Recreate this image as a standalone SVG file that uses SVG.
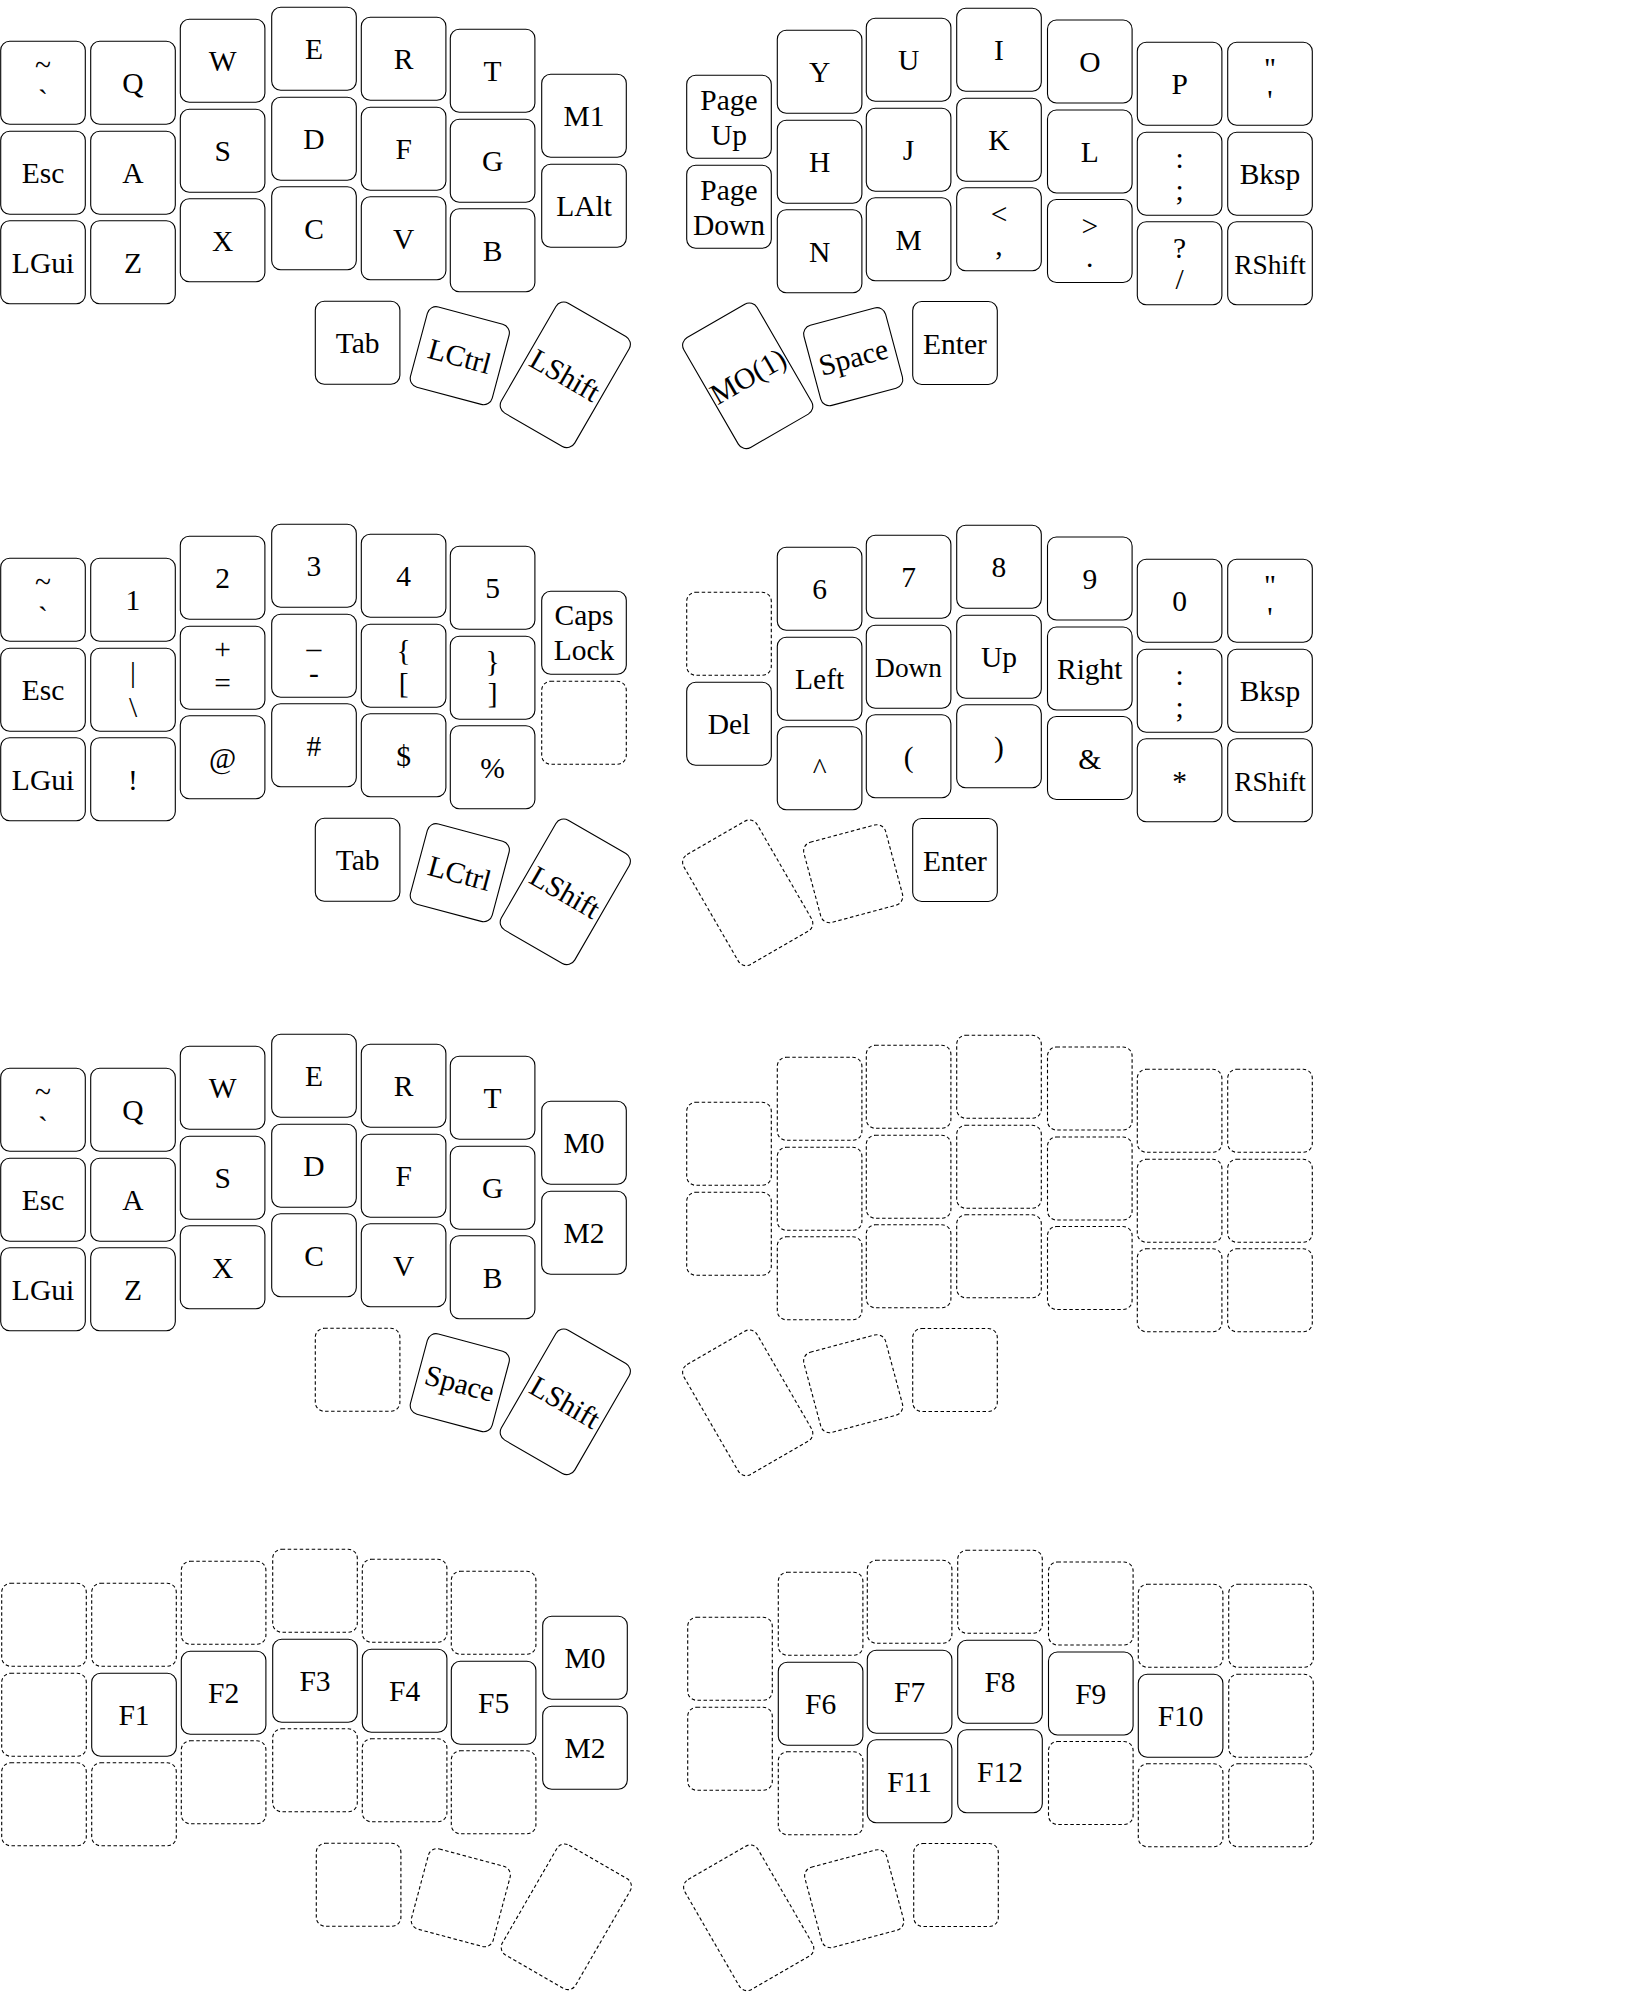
<svg xmlns="http://www.w3.org/2000/svg" width="1630" height="1997" viewBox="0 0 1630 1997">
<style>
.k{fill:#fff;stroke:#000;stroke-width:1.1}
.d{fill:#fff;stroke:#000;stroke-width:1.1;stroke-dasharray:3.5 2.5}
text{font-family:"Liberation Serif","Times New Roman",serif;font-size:29.5px;text-anchor:middle;fill:#000}
.s{font-size:27.4px}
</style>
<defs>
<rect id="u" class="k" width="84.6" height="83" rx="9"/>
<rect id="ud" class="d" width="84.6" height="83" rx="9"/>
</defs>
<rect width="1630" height="1997" fill="#fff"/>

<!-- LAYER 1 -->
<g id="layer1">
<g id="l1-tilde" transform="translate(0.7,41.3)"><rect class="k" width="84.6" height="83" rx="9"/><text><tspan x="42.3" y="34">~</tspan><tspan x="42.3" y="69">`</tspan></text></g>
<g id="l1-esc" transform="translate(0.7,131.3)"><rect class="k" width="84.6" height="83" rx="9"/><text x="42.3" y="52">Esc</text></g>
<g id="l1-lgui" transform="translate(0.7,220.8)"><rect class="k" width="84.6" height="83" rx="9"/><text x="42.3" y="52">LGui</text></g>
<g id="l1-q" transform="translate(90.7,41.3)"><rect class="k" width="84.6" height="83" rx="9"/><text x="42.3" y="52">Q</text></g>
<g id="l1-a" transform="translate(90.7,131.3)"><rect class="k" width="84.6" height="83" rx="9"/><text x="42.3" y="52">A</text></g>
<g id="l1-z" transform="translate(90.7,220.8)"><rect class="k" width="84.6" height="83" rx="9"/><text x="42.3" y="52">Z</text></g>
<g id="l1-w" transform="translate(180.3,19.3)"><rect class="k" width="84.6" height="83" rx="9"/><text x="42.3" y="52">W</text></g>
<g id="l1-s" transform="translate(180.3,109.3)"><rect class="k" width="84.6" height="83" rx="9"/><text x="42.3" y="52">S</text></g>
<g id="l1-x" transform="translate(180.3,198.8)"><rect class="k" width="84.6" height="83" rx="9"/><text x="42.3" y="52">X</text></g>
<g id="l1-e" transform="translate(271.7,7.3)"><rect class="k" width="84.6" height="83" rx="9"/><text x="42.3" y="52">E</text></g>
<g id="l1-d" transform="translate(271.7,97.3)"><rect class="k" width="84.6" height="83" rx="9"/><text x="42.3" y="52">D</text></g>
<g id="l1-c" transform="translate(271.7,186.8)"><rect class="k" width="84.6" height="83" rx="9"/><text x="42.3" y="52">C</text></g>
<g id="l1-r" transform="translate(361.3,17.3)"><rect class="k" width="84.6" height="83" rx="9"/><text x="42.3" y="52">R</text></g>
<g id="l1-f" transform="translate(361.3,107.3)"><rect class="k" width="84.6" height="83" rx="9"/><text x="42.3" y="52">F</text></g>
<g id="l1-v" transform="translate(361.3,196.8)"><rect class="k" width="84.6" height="83" rx="9"/><text x="42.3" y="52">V</text></g>
<g id="l1-t" transform="translate(450.3,29.3)"><rect class="k" width="84.6" height="83" rx="9"/><text x="42.3" y="52">T</text></g>
<g id="l1-g" transform="translate(450.3,119.3)"><rect class="k" width="84.6" height="83" rx="9"/><text x="42.3" y="52">G</text></g>
<g id="l1-b" transform="translate(450.3,208.8)"><rect class="k" width="84.6" height="83" rx="9"/><text x="42.3" y="52">B</text></g>
<g id="l1-m1" transform="translate(541.7,74.3)"><rect class="k" width="84.6" height="83" rx="9"/><text x="42.3" y="52">M1</text></g>
<g id="l1-lalt" transform="translate(541.7,164.3)"><rect class="k" width="84.6" height="83" rx="9"/><text x="42.3" y="52">LAlt</text></g>
<g id="l1-tab" transform="translate(315.3,301.3)"><rect class="k" width="84.6" height="83" rx="9"/><text x="42.3" y="52">Tab</text></g>
<g id="l1-lctrl" transform="translate(459.8,355.7) rotate(15)"><rect class="k" x="-42.3" y="-41.5" width="84.6" height="83" rx="9"/><text x="0" y="10.5">LCtrl</text></g>
<g id="l1-lshift" transform="translate(565.3,374.8) rotate(30)"><rect class="k" x="-42.3" y="-63.5" width="84.6" height="127" rx="9"/><text x="0" y="10.5">LShift</text></g>

<g id="l1-pgup" transform="translate(686.7,75.3)"><rect class="k" width="84.6" height="83" rx="9"/><text><tspan x="42.3" y="34.5">Page</tspan><tspan x="42.3" y="70">Up</tspan></text></g>
<g id="l1-pgdn" transform="translate(686.7,165.3)"><rect class="k" width="84.6" height="83" rx="9"/><text><tspan x="42.3" y="34.5">Page</tspan><tspan x="42.3" y="70">Down</tspan></text></g>
<g id="l1-y" transform="translate(777.3,30.3)"><rect class="k" width="84.6" height="83" rx="9"/><text x="42.3" y="52">Y</text></g>
<g id="l1-h" transform="translate(777.3,120.3)"><rect class="k" width="84.6" height="83" rx="9"/><text x="42.3" y="52">H</text></g>
<g id="l1-n" transform="translate(777.3,209.8)"><rect class="k" width="84.6" height="83" rx="9"/><text x="42.3" y="52">N</text></g>
<g id="l1-u" transform="translate(866.3,18.3)"><rect class="k" width="84.6" height="83" rx="9"/><text x="42.3" y="52">U</text></g>
<g id="l1-j" transform="translate(866.3,108.3)"><rect class="k" width="84.6" height="83" rx="9"/><text x="42.3" y="52">J</text></g>
<g id="l1-m" transform="translate(866.3,197.8)"><rect class="k" width="84.6" height="83" rx="9"/><text x="42.3" y="52">M</text></g>
<g id="l1-i" transform="translate(956.7,8.3)"><rect class="k" width="84.6" height="83" rx="9"/><text x="42.3" y="52">I</text></g>
<g id="l1-k" transform="translate(956.7,98.3)"><rect class="k" width="84.6" height="83" rx="9"/><text x="42.3" y="52">K</text></g>
<g id="l1-comma" transform="translate(956.7,187.8)"><rect class="k" width="84.6" height="83" rx="9"/><text><tspan x="42.3" y="36">&lt;</tspan><tspan x="42.3" y="67.5">,</tspan></text></g>
<g id="l1-o" transform="translate(1047.5,20)"><rect class="k" width="84.6" height="83" rx="9"/><text x="42.3" y="52">O</text></g>
<g id="l1-l" transform="translate(1047.5,110)"><rect class="k" width="84.6" height="83" rx="9"/><text x="42.3" y="52">L</text></g>
<g id="l1-dot" transform="translate(1047.5,199.5)"><rect class="k" width="84.6" height="83" rx="9"/><text><tspan x="42.3" y="36">&gt;</tspan><tspan x="42.3" y="67.5">.</tspan></text></g>
<g id="l1-p" transform="translate(1137.3,42.3)"><rect class="k" width="84.6" height="83" rx="9"/><text x="42.3" y="52">P</text></g>
<g id="l1-semi" transform="translate(1137.3,132.3)"><rect class="k" width="84.6" height="83" rx="9"/><text><tspan x="42.3" y="36">:</tspan><tspan x="42.3" y="67.5">;</tspan></text></g>
<g id="l1-slash" transform="translate(1137.3,221.8)"><rect class="k" width="84.6" height="83" rx="9"/><text><tspan x="42.3" y="36">?</tspan><tspan x="42.3" y="67.5">/</tspan></text></g>
<g id="l1-quote" transform="translate(1227.7,42.3)"><rect class="k" width="84.6" height="83" rx="9"/><text><tspan x="42.3" y="36">"</tspan><tspan x="42.3" y="67.5">'</tspan></text></g>
<g id="l1-bksp" transform="translate(1227.7,132.3)"><rect class="k" width="84.6" height="83" rx="9"/><text x="42.3" y="52">Bksp</text></g>
<g id="l1-rshift" transform="translate(1227.7,221.8)"><rect class="k" width="84.6" height="83" rx="9"/><text class="s" x="42.3" y="52">RShift</text></g>
<g id="l1-mo1" transform="translate(747.7,375.8) rotate(-30)"><rect class="k" x="-42.3" y="-63.5" width="84.6" height="127" rx="9"/><text x="0" y="10.5">MO(1)</text></g>
<g id="l1-space" transform="translate(853.2,356.7) rotate(-15)"><rect class="k" x="-42.3" y="-41.5" width="84.6" height="83" rx="9"/><text x="0" y="10.5">Space</text></g>
<g id="l1-enter" transform="translate(912.7,301.5)"><rect class="k" width="84.6" height="83" rx="9"/><text x="42.3" y="52">Enter</text></g>
</g>

<!-- LAYER 2 -->
<g id="layer2" transform="translate(0,517)">
<g id="l2-tilde" transform="translate(0.7,41.3)"><rect class="k" width="84.6" height="83" rx="9"/><text><tspan x="42.3" y="34">~</tspan><tspan x="42.3" y="69">`</tspan></text></g>
<g id="l2-esc" transform="translate(0.7,131.3)"><rect class="k" width="84.6" height="83" rx="9"/><text x="42.3" y="52">Esc</text></g>
<g id="l2-lgui" transform="translate(0.7,220.8)"><rect class="k" width="84.6" height="83" rx="9"/><text x="42.3" y="52">LGui</text></g>
<g id="l2-1" transform="translate(90.7,41.3)"><rect class="k" width="84.6" height="83" rx="9"/><text x="42.3" y="52">1</text></g>
<g id="l2-pipe" transform="translate(90.7,131.3)"><rect class="k" width="84.6" height="83" rx="9"/><text><tspan x="42.3" y="34">|</tspan><tspan x="42.3" y="69">\</tspan></text></g>
<g id="l2-excl" transform="translate(90.7,220.8)"><rect class="k" width="84.6" height="83" rx="9"/><text x="42.3" y="52">!</text></g>
<g id="l2-2" transform="translate(180.3,19.3)"><rect class="k" width="84.6" height="83" rx="9"/><text x="42.3" y="52">2</text></g>
<g id="l2-plus" transform="translate(180.3,109.3)"><rect class="k" width="84.6" height="83" rx="9"/><text><tspan x="42.3" y="33">+</tspan><tspan x="42.3" y="66.5">=</tspan></text></g>
<g id="l2-at" transform="translate(180.3,198.8)"><rect class="k" width="84.6" height="83" rx="9"/><text x="42.3" y="52">@</text></g>
<g id="l2-3" transform="translate(271.7,7.3)"><rect class="k" width="84.6" height="83" rx="9"/><text x="42.3" y="52">3</text></g>
<g id="l2-minus" transform="translate(271.7,97.3)"><rect class="k" width="84.6" height="83" rx="9"/><text><tspan x="42.3" y="33.5">_</tspan><tspan x="42.3" y="69">-</tspan></text></g>
<g id="l2-hash" transform="translate(271.7,186.8)"><rect class="k" width="84.6" height="83" rx="9"/><text x="42.3" y="52">#</text></g>
<g id="l2-4" transform="translate(361.3,17.3)"><rect class="k" width="84.6" height="83" rx="9"/><text x="42.3" y="52">4</text></g>
<g id="l2-lbrc" transform="translate(361.3,107.3)"><rect class="k" width="84.6" height="83" rx="9"/><text><tspan x="42.3" y="36">{</tspan><tspan x="42.3" y="68.5">[</tspan></text></g>
<g id="l2-dollar" transform="translate(361.3,196.8)"><rect class="k" width="84.6" height="83" rx="9"/><text x="42.3" y="52">$</text></g>
<g id="l2-5" transform="translate(450.3,29.3)"><rect class="k" width="84.6" height="83" rx="9"/><text x="42.3" y="52">5</text></g>
<g id="l2-rbrc" transform="translate(450.3,119.3)"><rect class="k" width="84.6" height="83" rx="9"/><text><tspan x="42.3" y="35">}</tspan><tspan x="42.3" y="67">]</tspan></text></g>
<g id="l2-pct" transform="translate(450.3,208.8)"><rect class="k" width="84.6" height="83" rx="9"/><text x="42.3" y="52">%</text></g>
<g id="l2-caps" transform="translate(541.7,74.3)"><rect class="k" width="84.6" height="83" rx="9"/><text><tspan x="42.3" y="34">Caps</tspan><tspan x="42.3" y="69">Lock</tspan></text></g>
<g id="l2-c6r1" transform="translate(541.7,164.3)"><rect class="d" width="84.6" height="83" rx="9"/></g>
<g id="l2-tab" transform="translate(315.3,301.3)"><rect class="k" width="84.6" height="83" rx="9"/><text x="42.3" y="52">Tab</text></g>
<g id="l2-lctrl" transform="translate(459.8,355.7) rotate(15)"><rect class="k" x="-42.3" y="-41.5" width="84.6" height="83" rx="9"/><text x="0" y="10.5">LCtrl</text></g>
<g id="l2-lshift" transform="translate(565.3,374.8) rotate(30)"><rect class="k" x="-42.3" y="-63.5" width="84.6" height="127" rx="9"/><text x="0" y="10.5">LShift</text></g>

<g id="l2-r0r0" transform="translate(686.7,75.3)"><rect class="d" width="84.6" height="83" rx="9"/></g>
<g id="l2-del" transform="translate(686.7,165.3)"><rect class="k" width="84.6" height="83" rx="9"/><text x="42.3" y="52">Del</text></g>
<g id="l2-6" transform="translate(777.3,30.3)"><rect class="k" width="84.6" height="83" rx="9"/><text x="42.3" y="52">6</text></g>
<g id="l2-left" transform="translate(777.3,120.3)"><rect class="k" width="84.6" height="83" rx="9"/><text x="42.3" y="52">Left</text></g>
<g id="l2-caret" transform="translate(777.3,209.8)"><rect class="k" width="84.6" height="83" rx="9"/><text x="42.3" y="52">^</text></g>
<g id="l2-7" transform="translate(866.3,18.3)"><rect class="k" width="84.6" height="83" rx="9"/><text x="42.3" y="52">7</text></g>
<g id="l2-down" transform="translate(866.3,108.3)"><rect class="k" width="84.6" height="83" rx="9"/><text class="s" x="42.3" y="51.5">Down</text></g>
<g id="l2-lpar" transform="translate(866.3,197.8)"><rect class="k" width="84.6" height="83" rx="9"/><text x="42.3" y="52">(</text></g>
<g id="l2-8" transform="translate(956.7,8.3)"><rect class="k" width="84.6" height="83" rx="9"/><text x="42.3" y="52">8</text></g>
<g id="l2-up" transform="translate(956.7,98.3)"><rect class="k" width="84.6" height="83" rx="9"/><text x="42.3" y="52">Up</text></g>
<g id="l2-rpar" transform="translate(956.7,187.8)"><rect class="k" width="84.6" height="83" rx="9"/><text x="42.3" y="52">)</text></g>
<g id="l2-9" transform="translate(1047.5,20)"><rect class="k" width="84.6" height="83" rx="9"/><text x="42.3" y="52">9</text></g>
<g id="l2-right" transform="translate(1047.5,110)"><rect class="k" width="84.6" height="83" rx="9"/><text x="42.3" y="52">Right</text></g>
<g id="l2-amp" transform="translate(1047.5,199.5)"><rect class="k" width="84.6" height="83" rx="9"/><text x="42.3" y="52">&amp;</text></g>
<g id="l2-0" transform="translate(1137.3,42.3)"><rect class="k" width="84.6" height="83" rx="9"/><text x="42.3" y="52">0</text></g>
<g id="l2-semi" transform="translate(1137.3,132.3)"><rect class="k" width="84.6" height="83" rx="9"/><text><tspan x="42.3" y="36">:</tspan><tspan x="42.3" y="67.5">;</tspan></text></g>
<g id="l2-star" transform="translate(1137.3,221.8)"><rect class="k" width="84.6" height="83" rx="9"/><text x="42.3" y="52">*</text></g>
<g id="l2-quote" transform="translate(1227.7,42.3)"><rect class="k" width="84.6" height="83" rx="9"/><text><tspan x="42.3" y="36">"</tspan><tspan x="42.3" y="67.5">'</tspan></text></g>
<g id="l2-bksp" transform="translate(1227.7,132.3)"><rect class="k" width="84.6" height="83" rx="9"/><text x="42.3" y="52">Bksp</text></g>
<g id="l2-rshift" transform="translate(1227.7,221.8)"><rect class="k" width="84.6" height="83" rx="9"/><text class="s" x="42.3" y="52">RShift</text></g>
<g id="l2-t0" transform="translate(747.7,375.8) rotate(-30)"><rect class="d" x="-42.3" y="-63.5" width="84.6" height="127" rx="9"/></g>
<g id="l2-t1" transform="translate(853.2,356.7) rotate(-15)"><rect class="d" x="-42.3" y="-41.5" width="84.6" height="83" rx="9"/></g>
<g id="l2-enter" transform="translate(912.7,301.5)"><rect class="k" width="84.6" height="83" rx="9"/><text x="42.3" y="52">Enter</text></g>
</g>

<!-- LAYER 3 -->
<g id="layer3" transform="translate(0,1027)">
<g id="l3-tilde" transform="translate(0.7,41.3)"><rect class="k" width="84.6" height="83" rx="9"/><text><tspan x="42.3" y="34">~</tspan><tspan x="42.3" y="69">`</tspan></text></g>
<g id="l3-esc" transform="translate(0.7,131.3)"><rect class="k" width="84.6" height="83" rx="9"/><text x="42.3" y="52">Esc</text></g>
<g id="l3-lgui" transform="translate(0.7,220.8)"><rect class="k" width="84.6" height="83" rx="9"/><text x="42.3" y="52">LGui</text></g>
<g id="l3-q" transform="translate(90.7,41.3)"><rect class="k" width="84.6" height="83" rx="9"/><text x="42.3" y="52">Q</text></g>
<g id="l3-a" transform="translate(90.7,131.3)"><rect class="k" width="84.6" height="83" rx="9"/><text x="42.3" y="52">A</text></g>
<g id="l3-z" transform="translate(90.7,220.8)"><rect class="k" width="84.6" height="83" rx="9"/><text x="42.3" y="52">Z</text></g>
<g id="l3-w" transform="translate(180.3,19.3)"><rect class="k" width="84.6" height="83" rx="9"/><text x="42.3" y="52">W</text></g>
<g id="l3-s" transform="translate(180.3,109.3)"><rect class="k" width="84.6" height="83" rx="9"/><text x="42.3" y="52">S</text></g>
<g id="l3-x" transform="translate(180.3,198.8)"><rect class="k" width="84.6" height="83" rx="9"/><text x="42.3" y="52">X</text></g>
<g id="l3-e" transform="translate(271.7,7.3)"><rect class="k" width="84.6" height="83" rx="9"/><text x="42.3" y="52">E</text></g>
<g id="l3-d" transform="translate(271.7,97.3)"><rect class="k" width="84.6" height="83" rx="9"/><text x="42.3" y="52">D</text></g>
<g id="l3-c" transform="translate(271.7,186.8)"><rect class="k" width="84.6" height="83" rx="9"/><text x="42.3" y="52">C</text></g>
<g id="l3-r" transform="translate(361.3,17.3)"><rect class="k" width="84.6" height="83" rx="9"/><text x="42.3" y="52">R</text></g>
<g id="l3-f" transform="translate(361.3,107.3)"><rect class="k" width="84.6" height="83" rx="9"/><text x="42.3" y="52">F</text></g>
<g id="l3-v" transform="translate(361.3,196.8)"><rect class="k" width="84.6" height="83" rx="9"/><text x="42.3" y="52">V</text></g>
<g id="l3-t" transform="translate(450.3,29.3)"><rect class="k" width="84.6" height="83" rx="9"/><text x="42.3" y="52">T</text></g>
<g id="l3-g" transform="translate(450.3,119.3)"><rect class="k" width="84.6" height="83" rx="9"/><text x="42.3" y="52">G</text></g>
<g id="l3-b" transform="translate(450.3,208.8)"><rect class="k" width="84.6" height="83" rx="9"/><text x="42.3" y="52">B</text></g>
<g id="l3-m0" transform="translate(541.7,74.3)"><rect class="k" width="84.6" height="83" rx="9"/><text x="42.3" y="52">M0</text></g>
<g id="l3-m2" transform="translate(541.7,164.3)"><rect class="k" width="84.6" height="83" rx="9"/><text x="42.3" y="52">M2</text></g>
<g id="l3-t0" transform="translate(315.3,301.3)"><rect class="d" width="84.6" height="83" rx="9"/></g>
<g id="l3-space" transform="translate(459.8,355.7) rotate(15)"><rect class="k" x="-42.3" y="-41.5" width="84.6" height="83" rx="9"/><text x="0" y="10.5">Space</text></g>
<g id="l3-lshift" transform="translate(565.3,374.8) rotate(30)"><rect class="k" x="-42.3" y="-63.5" width="84.6" height="127" rx="9"/><text x="0" y="10.5">LShift</text></g>
<g id="l3-right">
<use href="#ud" x="686.7" y="75.3"/><use href="#ud" x="686.7" y="165.3"/>
<use href="#ud" x="777.3" y="30.3"/><use href="#ud" x="777.3" y="120.3"/><use href="#ud" x="777.3" y="209.8"/>
<use href="#ud" x="866.3" y="18.3"/><use href="#ud" x="866.3" y="108.3"/><use href="#ud" x="866.3" y="197.8"/>
<use href="#ud" x="956.7" y="8.3"/><use href="#ud" x="956.7" y="98.3"/><use href="#ud" x="956.7" y="187.8"/>
<use href="#ud" x="1047.5" y="20"/><use href="#ud" x="1047.5" y="110"/><use href="#ud" x="1047.5" y="199.5"/>
<use href="#ud" x="1137.3" y="42.3"/><use href="#ud" x="1137.3" y="132.3"/><use href="#ud" x="1137.3" y="221.8"/>
<use href="#ud" x="1227.7" y="42.3"/><use href="#ud" x="1227.7" y="132.3"/><use href="#ud" x="1227.7" y="221.8"/>
<rect class="d" x="-42.3" y="-63.5" width="84.6" height="127" rx="9" transform="translate(747.7,375.8) rotate(-30)"/>
<rect class="d" x="-42.3" y="-41.5" width="84.6" height="83" rx="9" transform="translate(853.2,356.7) rotate(-15)"/>
<use href="#ud" x="912.7" y="301.5"/>
</g>
</g>

<!-- LAYER 4 -->
<g id="layer4" transform="translate(1,1542)">
<g id="l4-blank-left">
<use href="#ud" x="0.7" y="41.3"/><use href="#ud" x="0.7" y="131.3"/><use href="#ud" x="0.7" y="220.8"/>
<use href="#ud" x="90.7" y="41.3"/><use href="#ud" x="90.7" y="220.8"/>
<use href="#ud" x="180.3" y="19.3"/><use href="#ud" x="180.3" y="198.8"/>
<use href="#ud" x="271.7" y="7.3"/><use href="#ud" x="271.7" y="186.8"/>
<use href="#ud" x="361.3" y="17.3"/><use href="#ud" x="361.3" y="196.8"/>
<use href="#ud" x="450.3" y="29.3"/><use href="#ud" x="450.3" y="208.8"/>
<use href="#ud" x="315.3" y="301.3"/>
<rect class="d" x="-42.3" y="-41.5" width="84.6" height="83" rx="9" transform="translate(459.8,355.7) rotate(15)"/>
<rect class="d" x="-42.3" y="-63.5" width="84.6" height="127" rx="9" transform="translate(565.3,374.8) rotate(30)"/>
</g>
<g id="l4-f1" transform="translate(90.7,131.3)"><rect class="k" width="84.6" height="83" rx="9"/><text x="42.3" y="52">F1</text></g>
<g id="l4-f2" transform="translate(180.3,109.3)"><rect class="k" width="84.6" height="83" rx="9"/><text x="42.3" y="52">F2</text></g>
<g id="l4-f3" transform="translate(271.7,97.3)"><rect class="k" width="84.6" height="83" rx="9"/><text x="42.3" y="52">F3</text></g>
<g id="l4-f4" transform="translate(361.3,107.3)"><rect class="k" width="84.6" height="83" rx="9"/><text x="42.3" y="52">F4</text></g>
<g id="l4-f5" transform="translate(450.3,119.3)"><rect class="k" width="84.6" height="83" rx="9"/><text x="42.3" y="52">F5</text></g>
<g id="l4-m0" transform="translate(541.7,74.3)"><rect class="k" width="84.6" height="83" rx="9"/><text x="42.3" y="52">M0</text></g>
<g id="l4-m2" transform="translate(541.7,164.3)"><rect class="k" width="84.6" height="83" rx="9"/><text x="42.3" y="52">M2</text></g>
<g id="l4-blank-right">
<use href="#ud" x="686.7" y="75.3"/><use href="#ud" x="686.7" y="165.3"/>
<use href="#ud" x="777.3" y="30.3"/><use href="#ud" x="777.3" y="209.8"/>
<use href="#ud" x="866.3" y="18.3"/>
<use href="#ud" x="956.7" y="8.3"/>
<use href="#ud" x="1047.5" y="20"/><use href="#ud" x="1047.5" y="199.5"/>
<use href="#ud" x="1137.3" y="42.3"/><use href="#ud" x="1137.3" y="221.8"/>
<use href="#ud" x="1227.7" y="42.3"/><use href="#ud" x="1227.7" y="132.3"/><use href="#ud" x="1227.7" y="221.8"/>
<rect class="d" x="-42.3" y="-63.5" width="84.6" height="127" rx="9" transform="translate(747.7,375.8) rotate(-30)"/>
<rect class="d" x="-42.3" y="-41.5" width="84.6" height="83" rx="9" transform="translate(853.2,356.7) rotate(-15)"/>
<use href="#ud" x="912.7" y="301.5"/>
</g>
<g id="l4-f6" transform="translate(777.3,120.3)"><rect class="k" width="84.6" height="83" rx="9"/><text x="42.3" y="52">F6</text></g>
<g id="l4-f7" transform="translate(866.3,108.3)"><rect class="k" width="84.6" height="83" rx="9"/><text x="42.3" y="52">F7</text></g>
<g id="l4-f11" transform="translate(866.3,197.8)"><rect class="k" width="84.6" height="83" rx="9"/><text x="42.3" y="52">F11</text></g>
<g id="l4-f8" transform="translate(956.7,98.3)"><rect class="k" width="84.6" height="83" rx="9"/><text x="42.3" y="52">F8</text></g>
<g id="l4-f12" transform="translate(956.7,187.8)"><rect class="k" width="84.6" height="83" rx="9"/><text x="42.3" y="52">F12</text></g>
<g id="l4-f9" transform="translate(1047.5,110)"><rect class="k" width="84.6" height="83" rx="9"/><text x="42.3" y="52">F9</text></g>
<g id="l4-f10" transform="translate(1137.3,132.3)"><rect class="k" width="84.6" height="83" rx="9"/><text x="42.3" y="52">F10</text></g>
</g>
</svg>
